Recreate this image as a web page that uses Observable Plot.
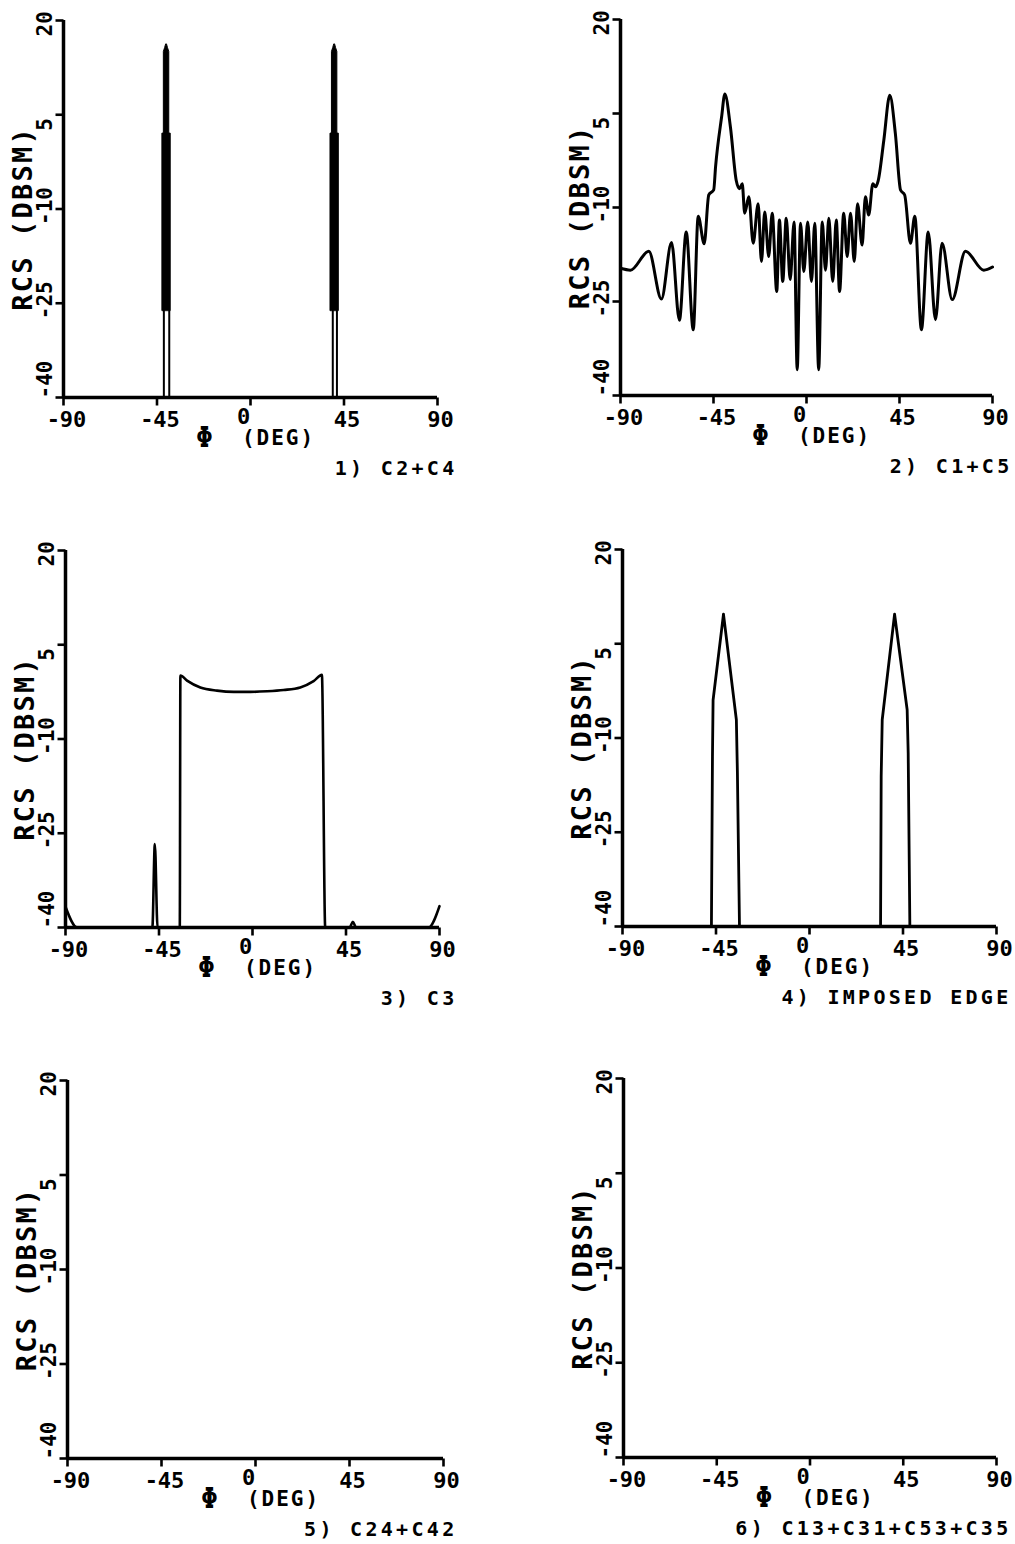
<!DOCTYPE html>
<html>
<head>
<meta charset="utf-8">
<script src="https://cdn.jsdelivr.net/npm/d3@7"></script>
<script src="https://cdn.jsdelivr.net/npm/@observablehq/plot@0.6"></script>
<style>
  body { margin: 0; background: #fff; }
  #wrap { position: relative; width: 1015px; height: 1544px; overflow: hidden; background: #fff; }
  #wrap svg { position: absolute; }
  svg text { white-space: pre; }
</style>
</head>
<body>
<div id="wrap"></div>
<script>
// ---------- axis ticks & labels ----------
const xTicks = [-90, -45, 0, 45, 90];
const yTicks = [-40, -25, -10, 5, 20];
const xLabelSymbol = "Φ";
const xLabelUnit = "(DEG)";
const yLabel = "RCS (DBSM)";
const captions = ["1) C2+C4", "2) C1+C5", "3) C3", "4) IMPOSED EDGE", "5) C24+C42", "6) C13+C31+C53+C35"];

// ---------- panel 1 : C2+C4 (narrow spikes) ----------
const p1LegPhi    = [-41.7, -41.7, -39.1, -39.1, 39.6, 39.6, 41.6, 41.6];
const p1LegRcs    = [-40, -26.2, -26.2, -40, -40, -26.2, -26.2, -40];
const p1LegSeries = ["a", "a", "b", "b", "c", "c", "d", "d"];
const p1BodyRcs    = [-26.2, 2, 2, 15, 15.6, 16.2, -26.2, 2, 2, 15, 15.6, 16.2];
const p1BodyLeft   = [-42.4, -42.4, -41.7, -41.7, -41.1, -40.6, 38.5, 38.5, 39.2, 39.2, 39.8, 40.3];
const p1BodyRight  = [-38.4, -38.4, -39.1, -39.1, -39.7, -40.2, 42.5, 42.5, 41.8, 41.8, 41.2, 40.7];
const p1BodySeries = ["L", "L", "L", "L", "L", "L", "R", "R", "R", "R", "R", "R"];

// ---------- panel 2 : C1+C5 ----------
const p2Phi = [-90, -85.2, -76.3, -70.2, -65.3, -61.5, -58.2, -54.8, -52.4, -49.5, -47.3, -44.9, -44.0, -41.1, -39.5,
  -36.8, -34.0, -32.4, -31.1, -29.9, -27.9, -25.8, -23.4, -21.8, -20.2, -18.3, -16.6, -14.4, -13.1, -11.5, -9.8,
  -7.9, -6.0, -4.5, -2.9, -1.3, 0.6, 2.4, 4.0, 5.9, 7.6, 9.2, 10.8, 12.7, 14.4, 16.0, 18.0, 19.7, 21.3, 23.1, 24.7,
  26.9, 28.5, 30.1, 32.1, 33.4, 34.7, 37.4, 40.3, 43.0, 45.5, 47.5, 50.3, 52.4, 55.6, 58.9, 62.4, 65.6, 70.5, 76.9,
  85.8, 90];
const p2Rcs = [-19.7, -20.0, -17.0, -24.6, -15.6, -28.0, -13.9, -29.5, -11.4, -15.8, -8.0, -7.2, -3.5, 4.4, 8.1,
  2.8, -5.7, -7.0, -6.2, -10.9, -8.3, -15.7, -9.4, -18.6, -10.7, -17.8, -10.9, -23.4, -12.0, -21.8, -11.7,
  -21.5, -12.3, -35.9, -12.5, -20.2, -12.3, -21.8, -12.5, -35.9, -12.3, -20.0, -11.7, -21.8, -12.0, -23.4, -10.9,
  -17.8, -10.9, -18.6, -9.4, -16.0, -8.3, -11.2, -6.2, -6.7, -5.7, 0.7, 7.9, 1.8, -7.2, -8.0, -15.7, -11.4, -29.5,
  -13.9, -27.9, -15.7, -24.7, -17.0, -20.0, -19.5];

// ---------- panel 3 : C3 ----------
const p3Phi = [-90, -84.4, -48.2, -47.0, -45.7, -35.0, -34.7, -31.5, -25.1, -17.1, -9.0, -1.0, 7.0, 15.0, 23.0,
  29.4, 33.4, 35.0, 46.7, 48.3, 49.9, 84.7, 90];
const p3Rcs = [-36.7, -40, -40, -26.7, -40, -40, 0.1, -0.7, -1.8, -2.3, -2.5, -2.5, -2.4, -2.2, -1.8,
  -0.8, 0.2, -40, -40, -39.1, -40, -40, -36.6];

// ---------- panel 4 : imposed edge ----------
const p4Phi = [-47.2, -46.7, -46.4, -41.4, -35.2, -34.7, -33.7, 34.2, 34.5, 35.0, 40.95, 47.0, 47.5, 48.3];
const p4Rcs = [-40, -12.9, -3.95, 9.7, -7.1, -15.5, -40, -40, -16.1, -7.1, 9.7, -5.5, -12.4, -40];
const p4Series = ["L", "L", "L", "L", "L", "L", "L", "R", "R", "R", "R", "R", "R", "R"];

// ---------- layout (pixel frame of each panel) ----------
const M = {l: 60, r: 40, t: 20, b: 90};
const layout = [
  {left: 63, top: 20, w: 374, h: 377, capDx: 20},
  {left: 620, top: 19, w: 372, h: 376, capDx: 20},
  {left: 65, top: 550, w: 374, h: 377, capDx: 18},
  {left: 622, top: 549, w: 374, h: 377, capDx: 15},
  {left: 67, top: 1080, w: 376, h: 378, capDx: 14},
  {left: 623, top: 1078, w: 373, h: 379, capDx: 15}
];
const TICK_PX = 8;
const FONT = "DejaVu Sans Mono";
const font = {fontFamily: FONT, fontWeight: "bold", fill: "black"};

const p1Legs = p1LegPhi.map((phi, i) => ({phi, rcs: p1LegRcs[i], s: p1LegSeries[i]}));
const p1Body = p1BodyRcs.map((rcs, i) => ({rcs, x1: p1BodyLeft[i], x2: p1BodyRight[i], s: p1BodySeries[i]}));
const p2 = p2Phi.map((phi, i) => ({phi, rcs: p2Rcs[i]}));
const p3 = p3Phi.map((phi, i) => ({phi, rcs: p3Rcs[i]}));
const p4 = p4Phi.map((phi, i) => ({phi, rcs: p4Rcs[i], s: p4Series[i]}));

function frameMarks(caption, cfg) {
  // outward tick length: pixels converted to data units of each scale
  const yTickLen = TICK_PX * 60 / cfg.h;
  const xTickLen = TICK_PX * 180 / cfg.w;
  const xt = xTicks.map(v => ({v, a: -40, b: -40 - yTickLen}));
  const yt = yTicks.map(v => ({v, a: -90, b: -90 - xTickLen}));
  return [
    Plot.ruleX([-90], {stroke: "black", strokeWidth: 3.5}),
    Plot.ruleY([-40], {stroke: "black", strokeWidth: 3.5}),
    Plot.link(xt, {x1: "v", x2: "v", y1: "a", y2: "b", stroke: "black", strokeWidth: 2.6}),
    Plot.link(yt, {y1: "v", y2: "v", x1: "a", x2: "b", stroke: "black", strokeWidth: 2.6}),
    Plot.text(xTicks.filter(d => d !== 0), {x: d => d, y: -40, text: d => String(d), dx: 3, dy: 22, fontSize: 22, ...font}),
    Plot.text(xTicks.filter(d => d === 0), {x: d => d, y: -40, text: d => String(d), dx: -7, dy: 19, fontSize: 22, ...font}),
    Plot.text(yTicks.filter(d => d !== -40), {x: -90, y: d => d, text: d => String(d), rotate: -90, textAnchor: "start", dx: -18, dy: 16, fontSize: 21, ...font}),
    Plot.text(yTicks.filter(d => d === -40), {x: -90, y: d => d, text: d => String(d), rotate: -90, textAnchor: "start", dx: -18, dy: 1, fontSize: 21, ...font}),
    Plot.text([xLabelSymbol], {x: 0, y: -40, text: d => d, dx: -46, dy: 41, fontSize: 28, ...font}),
    Plot.text([xLabelUnit], {x: 0, y: -40, text: d => d, dx: 28, dy: 41, fontSize: 21, ...font}),
    Plot.text([yLabel], {x: -90, y: -11.5, text: d => d, rotate: -90, dx: -40, fontSize: 27, ...font}),
    Plot.text([caption], {x: 90, y: -40, text: d => d, textAnchor: "end", dx: cfg.capDx, dy: 71, fontSize: 20, ...font})
  ];
}

const dataMarks = [
  [
    Plot.areaX(p1Body, {y: "rcs", x1: "x1", x2: "x2", z: "s", fill: "black", stroke: "black", strokeWidth: 1}),
    Plot.line(p1Legs, {x: "phi", y: "rcs", z: "s", stroke: "black", strokeWidth: 2})
  ],
  [Plot.line(p2, {x: "phi", y: "rcs", curve: "monotone-x", stroke: "black", strokeWidth: 3})],
  [Plot.line(p3, {x: "phi", y: "rcs", curve: "monotone-x", stroke: "black", strokeWidth: 2.6})],
  [Plot.line(p4, {x: "phi", y: "rcs", z: "s", stroke: "black", strokeWidth: 2.8})],
  [],
  []
];

const spacing = new Map([[yLabel, 2.2], [xLabelUnit, 2]]);
captions.forEach(c => spacing.set(c, 3.3));

const wrap = document.getElementById("wrap");
layout.forEach((cfg, i) => {
  const svg = Plot.plot({
    width: M.l + cfg.w + M.r,
    height: M.t + cfg.h + M.b,
    marginLeft: M.l, marginRight: M.r, marginTop: M.t, marginBottom: M.b,
    x: {domain: [-90, 90], axis: null},
    y: {domain: [-40, 20], axis: null},
    style: {background: "transparent", overflow: "visible", color: "black", fontFamily: FONT},
    marks: [...dataMarks[i], ...frameMarks(captions[i], cfg)]
  });
  d3.select(svg).selectAll("text").each(function () {
    const ls = spacing.get(this.textContent);
    if (ls != null) this.setAttribute("letter-spacing", ls);
  });
  svg.style.left = (cfg.left - M.l) + "px";
  svg.style.top = (cfg.top - M.t) + "px";
  wrap.appendChild(svg);
});
</script>
</body>
</html>
